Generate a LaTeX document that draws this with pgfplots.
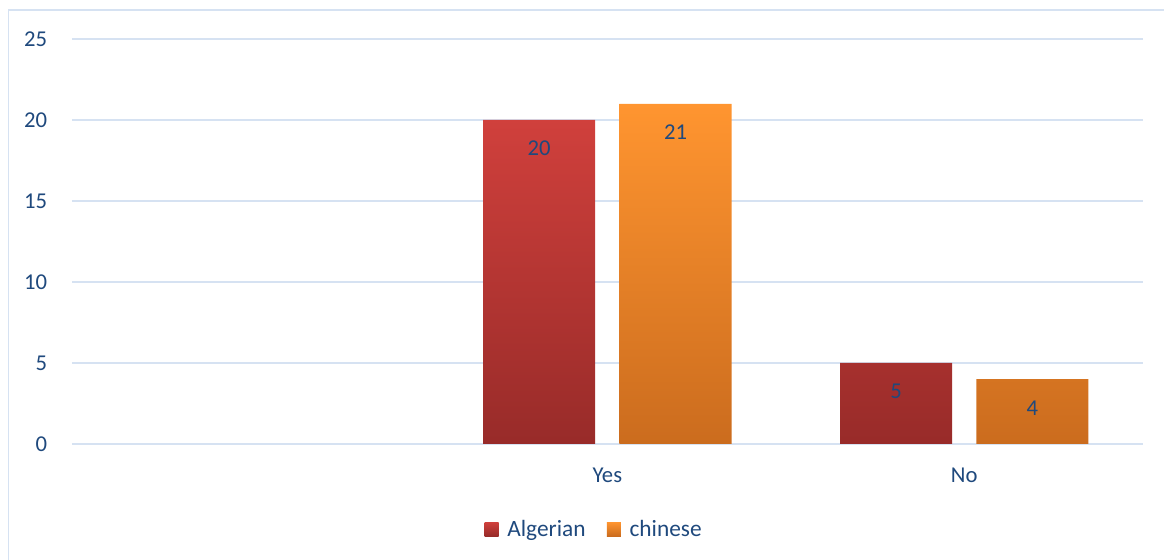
\documentclass[border=0pt]{standalone}
\usepackage{pgfplots}
\pgfplotsset{compat=1.18}
\usepackage{fontspec}
\setmainfont{Carlito}
\definecolor{txt}{HTML}{1F497D}
\definecolor{gridc}{HTML}{D6E2F2}
\definecolor{redtop}{HTML}{D0403C}
\definecolor{redbot}{HTML}{982B29}
\definecolor{ortop}{HTML}{FF9530}
\definecolor{orbot}{HTML}{CB6C1E}
\begin{document}
\begin{tikzpicture}
\useasboundingbox (0pt,0pt) rectangle (873pt,420pt);
\draw[gridc, line width=1.2pt] (6.4pt,-10pt) -- (6.4pt,412.5pt) -- (890pt,412.5pt);
\begin{axis}[
  at={(54pt,87pt)}, anchor=south west,
  scale only axis, width=803pt, height=303.75pt,
  xmin=-0.5, xmax=2.5, ymin=0, ymax=25,
  xtick={1,2}, xticklabels={Yes,No},
  ytick={0,5,10,15,20,25},
  ymajorgrids, grid style={gridc, line width=1.1pt},
  axis line style={draw=none}, major tick length=0pt,
  /pgf/number format/assume math mode=true,
  tick label style={text=txt, font=\fontsize{17}{20}\selectfont, inner sep=0pt},
  yticklabel style={anchor=east, xshift=-18.5pt},
  xticklabel style={anchor=base, yshift=-29pt},
  ybar, bar width=0.314,
  nodes near coords,
  every node near coord/.append style={anchor=center, yshift=-21.5pt, text=txt, font=\fontsize{17}{20}\selectfont},
  legend style={at={(0.488,-0.21)}, anchor=center, draw=none, fill=none,
    legend columns=2, font=\fontsize{17.5}{20}\selectfont, text=txt,
    /tikz/every even column/.append style={column sep=14pt},
    inner sep=0pt, cells={anchor=west}},
  legend image code/.code={\path[#1, draw=none] (0pt,-5.25pt) rectangle (10.5pt,5.25pt);\path (15pt,0pt);},
]
\addplot[draw=none, top color=redtop, bottom color=redbot, bar shift=-0.191]
  coordinates {(1,20) (2,5)};
\addplot[draw=none, top color=ortop, bottom color=orbot, bar shift=0.191]
  coordinates {(1,21) (2,4)};
\legend{Algerian, chinese}
\end{axis}
\end{tikzpicture}
\end{document}
